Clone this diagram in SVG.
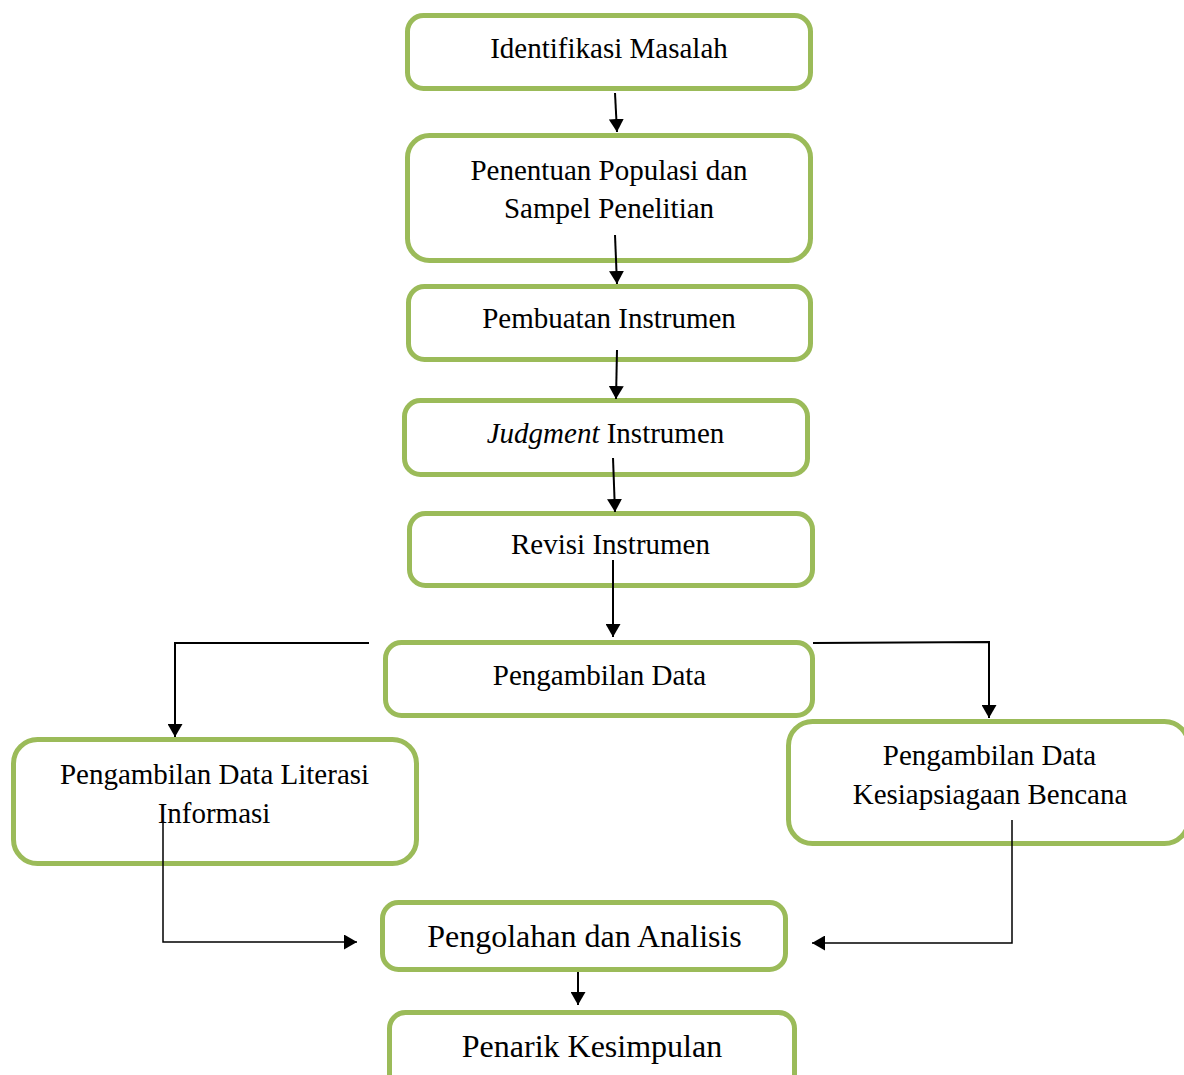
<svg xmlns="http://www.w3.org/2000/svg" width="1184" height="1075" viewBox="0 0 1184 1075">
<style>
.box{fill:#ffffff;stroke:#9BBB59;stroke-width:5}
.t{font-family:"Liberation Serif","Times New Roman",serif;font-size:29px;fill:#000;text-anchor:middle}
.t32{font-size:32px}
.c{fill:none;stroke:#000;stroke-width:2}
.thin{stroke-width:1.5}
</style>
<defs>
<marker id="ah" markerUnits="userSpaceOnUse" markerWidth="14" markerHeight="15" refX="13" refY="7.5" orient="auto">
<path d="M0,0 L13,7.5 L0,15 z" fill="#000"/>
</marker>
</defs>
<rect width="1184" height="1075" fill="#ffffff"/>
<g id="n1"><rect class="box" x="407.5" y="15.5" width="403" height="73" rx="16"/><text class="t" x="609" y="58">Identifikasi Masalah</text></g>
<g id="n2"><rect class="box" x="407.5" y="135.5" width="403" height="125" rx="22"/><text class="t" x="609" y="180">Penentuan Populasi dan</text><text class="t" x="609" y="218">Sampel Penelitian</text></g>
<g id="n3"><rect class="box" x="408.5" y="286.5" width="402" height="73" rx="16"/><text class="t" x="609" y="328">Pembuatan Instrumen</text></g>
<g id="n4"><rect class="box" x="404.5" y="400.5" width="403" height="74" rx="16"/><text class="t" x="605.5" y="443"><tspan font-style="italic">Judgment</tspan> Instrumen</text></g>
<g id="n5"><rect class="box" x="409.5" y="513.5" width="403" height="72" rx="16"/><text class="t" x="610.5" y="554">Revisi Instrumen</text></g>
<g id="n6"><rect class="box" x="385.5" y="642.5" width="427" height="73" rx="16"/><text class="t" x="599.5" y="685">Pengambilan Data</text></g>
<g id="n7"><rect class="box" x="13.5" y="739.5" width="403" height="124" rx="24"/><text class="t" x="214.5" y="784">Pengambilan Data Literasi</text><text class="t" x="214" y="823">Informasi</text></g>
<g id="n8"><rect class="box" x="788.5" y="721.5" width="400" height="122" rx="24"/><text class="t" x="989.5" y="765">Pengambilan Data</text><text class="t" x="990" y="804">Kesiapsiagaan Bencana</text></g>
<g id="n9"><rect class="box" x="382.5" y="902.5" width="403" height="67" rx="16"/><text class="t t32" x="584.5" y="947">Pengolahan dan Analisis</text></g>
<g id="n10"><rect class="box" x="389.5" y="1012.5" width="405" height="80" rx="16"/><text class="t t32" x="592" y="1057">Penarik Kesimpulan</text></g>
<g id="connectors">
<path class="c" d="M615,93 L617,132" marker-end="url(#ah)"/>
<path class="c" d="M615,235 L617,284" marker-end="url(#ah)"/>
<path class="c" d="M617,350 L616,399" marker-end="url(#ah)"/>
<path class="c" d="M613,458 L615,512" marker-end="url(#ah)"/>
<path class="c" d="M613,560 L613,637" marker-end="url(#ah)"/>
<path class="c" d="M369,643 L175,643 L175,737" marker-end="url(#ah)"/>
<path class="c" d="M813,643 L989,642 L989,718" marker-end="url(#ah)"/>
<path class="c thin" d="M163,822 L163,942 L357,942" marker-end="url(#ah)"/>
<path class="c thin" d="M1012,820 L1012,943 L812,943" marker-end="url(#ah)"/>
<path class="c" d="M578,972 L578,1005" marker-end="url(#ah)"/>
</g>
</svg>
